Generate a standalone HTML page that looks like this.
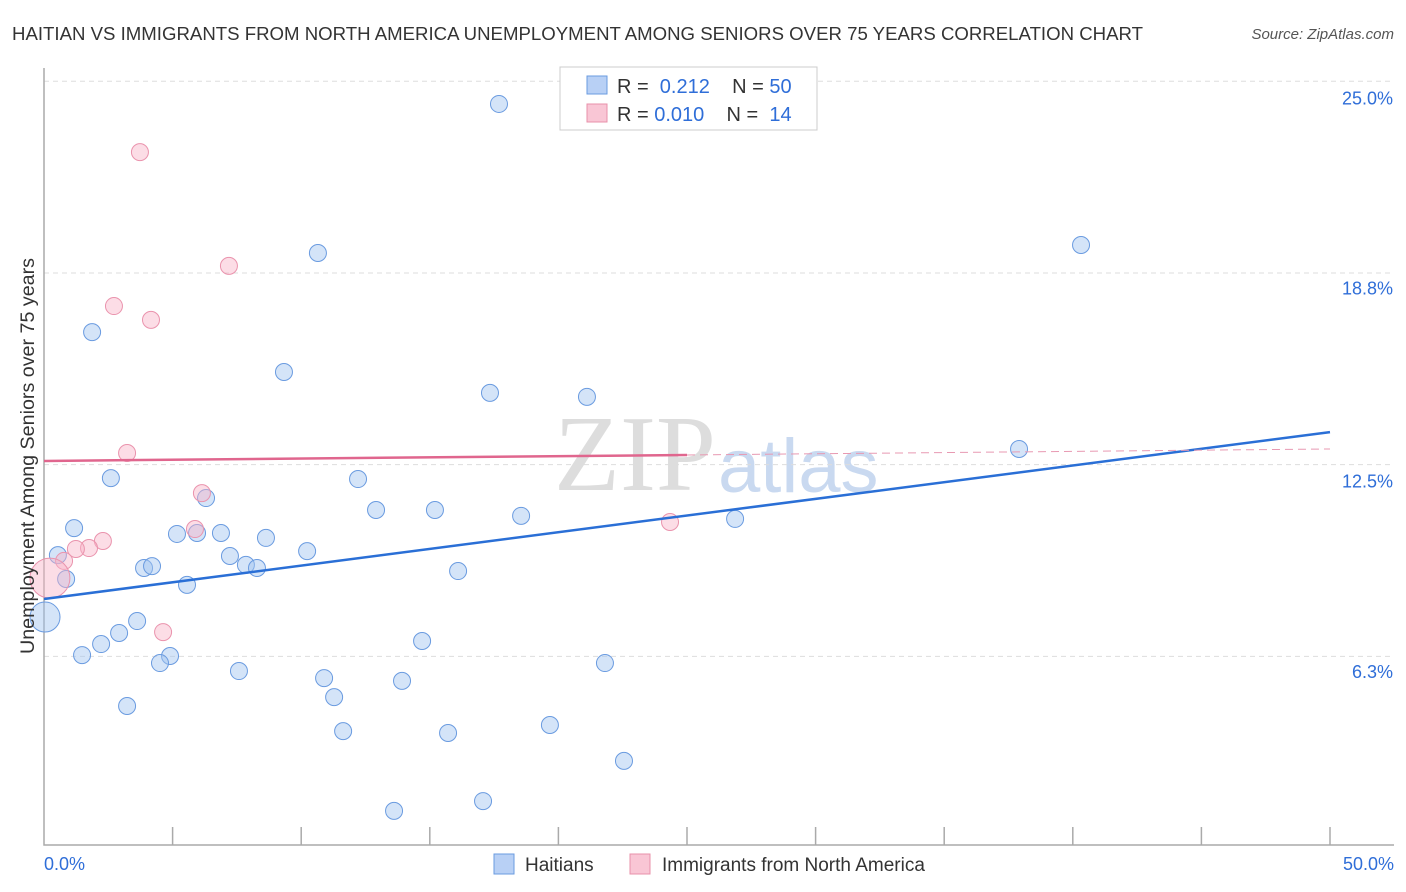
<!DOCTYPE html>
<html><head><meta charset="utf-8"><style>
body{margin:0;background:#fff;font-family:"Liberation Sans",sans-serif;}
svg{display:block}
</style></head><body>
<svg id="chart" width="1406" height="892" viewBox="0 0 1406 892">
<text x="12" y="40" font-size="18" fill="#333" textLength="1131" lengthAdjust="spacingAndGlyphs">HAITIAN VS IMMIGRANTS FROM NORTH AMERICA UNEMPLOYMENT AMONG SENIORS OVER 75 YEARS CORRELATION CHART</text>
<text x="1394" y="39" font-size="15" fill="#555" font-style="italic" text-anchor="end">Source: ZipAtlas.com</text>
<text x="716" y="490" font-size="108" fill="#ddd" text-anchor="end" font-family="Liberation Serif,serif">ZIP</text>
<text x="718" y="492" font-size="76" fill="#c9d9f0">atlas</text>
<g id="grid"></g>
<g id="axes"></g>
<g id="marks"></g>
<text transform="translate(34,456) rotate(-90)" font-size="19.5" fill="#333" text-anchor="middle" textLength="396" lengthAdjust="spacingAndGlyphs">Unemployment Among Seniors over 75 years</text>
<g>
<rect x="560" y="67" width="257" height="63" fill="#fff" stroke="#ccc"/>
<rect x="587" y="76" width="20" height="18" fill="#b8d0f5" stroke="#6a9be0"/>
<rect x="587" y="104" width="20" height="18" fill="#f9c6d5" stroke="#e890aa"/>
<text x="617" y="93" font-size="20" fill="#333">R = <tspan fill="#2f6ed8">&#160;0.212</tspan>&#160;&#160;&#160; N = <tspan fill="#2f6ed8">50</tspan></text>
<text x="617" y="121" font-size="20" fill="#333">R = <tspan fill="#2f6ed8">0.010</tspan>&#160;&#160;&#160; N = <tspan fill="#2f6ed8">&#160;14</tspan></text>
</g>
<g>
<rect x="494" y="854" width="20" height="20" fill="#b8d0f5" stroke="#6a9be0"/>
<text x="525" y="871" font-size="19" fill="#333">Haitians</text>
<rect x="630" y="854" width="20" height="20" fill="#f9c6d5" stroke="#e890aa"/>
<text x="662" y="871" font-size="19" fill="#333">Immigrants from North America</text>
</g>
</svg>
<script>
const blueX=[17.69,10.65,40.32,1.87,9.33,17.34,21.11,37.91,2.60,12.21,6.30,12.91,15.20,18.55,26.87,1.17,5.17,5.95,6.88,8.63,0.54,10.23,7.23,3.89,4.20,7.85,8.28,16.10,0.86,5.56,0.04,3.62,2.92,2.22,14.70,1.48,4.90,4.51,21.81,7.58,10.89,13.92,11.28,3.23,19.67,11.63,15.71,22.55,17.07,13.61];
const blueY=[24.26,19.40,19.66,16.82,15.52,14.84,14.71,13.01,12.06,12.03,11.41,11.02,11.02,10.83,10.73,10.43,10.24,10.27,10.27,10.11,9.55,9.68,9.52,9.13,9.19,9.23,9.13,9.03,8.77,8.58,7.53,7.40,7.01,6.65,6.75,6.29,6.26,6.03,6.03,5.77,5.54,5.45,4.92,4.63,4.01,3.81,3.75,2.84,1.53,1.21];
const pinkX=[3.73,7.19,2.72,4.16,3.23,6.14,5.87,2.29,1.75,1.24,0.78,4.63,24.34,0.23];
const pinkY=[22.69,18.98,17.67,17.22,12.88,11.57,10.40,10.01,9.78,9.75,9.36,7.04,10.63,8.80];
const blueTrend=[8.12,13.56];
const pinkTrend=[12.62,13.01];
const yTicks=[25.0,18.8,12.5,6.3];
const yTickLabels=["25.0%","18.8%","12.5%","6.3%"];
const xTicks=[0,5,10,15,20,25,30,35,40,45,50];

const NS="http://www.w3.org/2000/svg";
const X=v=>44+v*25.72, Y=v=>848-v*30.67;
function mk(p,t,a){const e=document.createElementNS(NS,t);for(const k in a)e.setAttribute(k,a[k]);document.getElementById(p).appendChild(e);return e;}
yTicks.forEach((t,i)=>{
  const gy=Y(t===25?25.0:t===18.8?18.75:t===6.3?6.25:t);
  const gl=mk('grid','line',{x1:44,x2:1394,y1:gy,y2:gy,stroke:'#ddd','stroke-dasharray':'5,4'});
  
  
  const tx=mk('grid','text',{x:1393,y:Y(t)+23,'font-size':18,fill:'#2f6ed8','text-anchor':'end'});
  tx.textContent=yTickLabels[i];
  
  
});
const ax=mk('axes','path',{d:'M44,68V845H1394',stroke:'#aaa',fill:'none','stroke-width':1.5});


xTicks.slice(1).forEach(t=>{
  const l=mk('axes','line',{x1:X(t),x2:X(t),y1:827,y2:845,stroke:'#aaa','stroke-width':1.5});
  
  
});
const x0=mk('axes','text',{x:44,y:870,'font-size':18,fill:'#2f6ed8'});x0.textContent='0.0%';


const x1=mk('axes','text',{x:1394,y:870,'font-size':18,fill:'#2f6ed8','text-anchor':'end'});x1.textContent='50.0%';



blueX.forEach((v,i)=>{
  const c=mk('marks','circle',{cx:X(v),cy:Y(blueY[i]),r:i===30?15:8.5,fill:'rgba(160,195,240,0.45)',stroke:'#6a9be0','stroke-width':1});
  
  
});
pinkX.forEach((v,i)=>{
  const c=mk('marks','circle',{cx:X(v),cy:Y(pinkY[i]),r:i===13?20:8.5,fill:'rgba(248,180,200,0.45)',stroke:'#ea93ad','stroke-width':1});
  
  
});
const bl=mk('marks','line',{x1:X(0),y1:Y(blueTrend[0]),x2:X(50),y2:Y(blueTrend[1]),stroke:'#2a6fd6','stroke-width':2.5});


const pm=v=>pinkTrend[0]+(pinkTrend[1]-pinkTrend[0])*v/50;
const pl=mk('marks','line',{x1:X(0),y1:Y(pm(0)),x2:X(25),y2:Y(pm(25)),stroke:'#e0668e','stroke-width':2.5});


const pd=mk('marks','line',{x1:X(25),y1:Y(pm(25)),x2:X(50),y2:Y(pm(50)),stroke:'#e899b2','stroke-width':1,'stroke-dasharray':'8,5'});


</script>
</body></html>
